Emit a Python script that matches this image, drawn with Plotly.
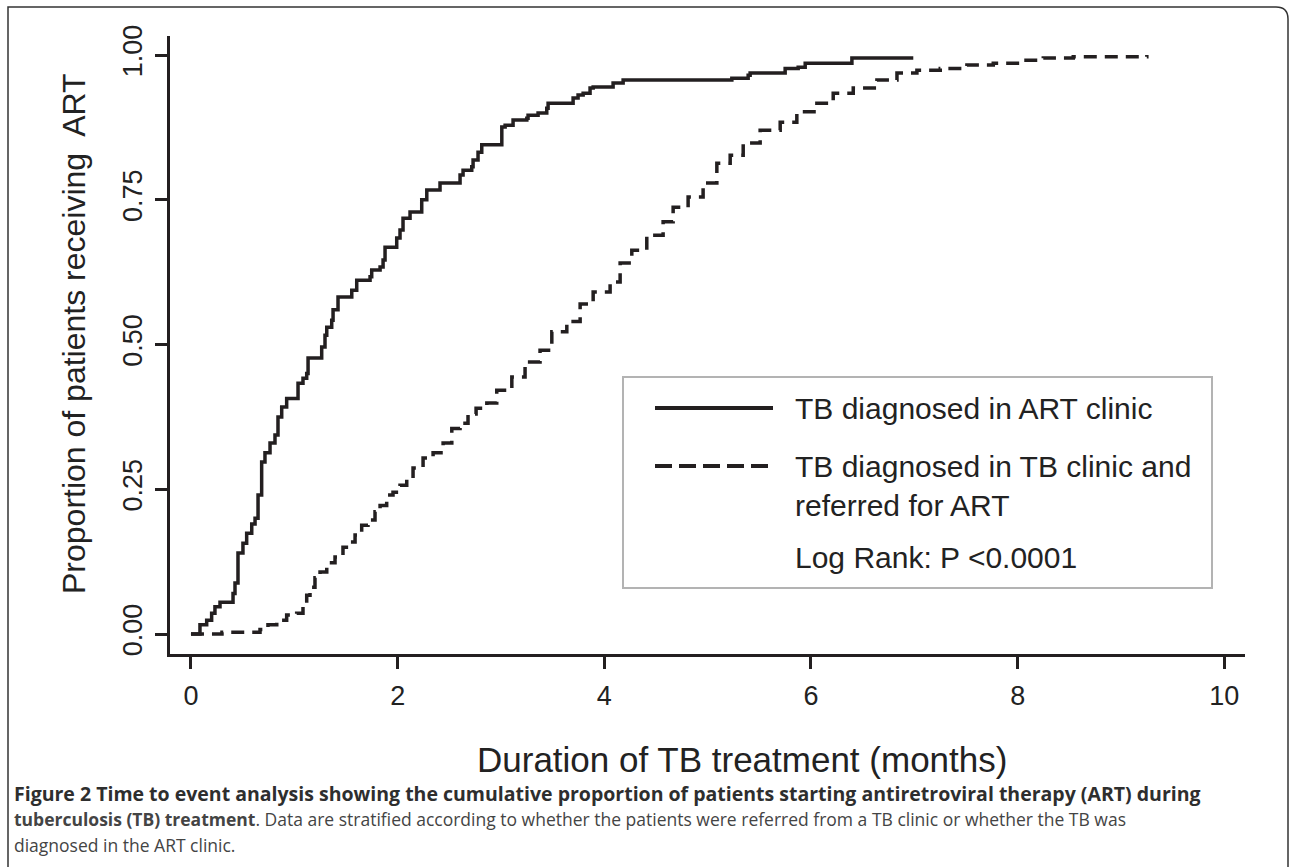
import plotly.graph_objects as go

# ---- data (months, cumulative proportion) ----
art_clinic_t = [0.0, 0.087, 0.152, 0.20, 0.232, 0.281, 0.407, 0.426, 0.455, 0.503, 0.539, 0.588, 0.62,
                0.649, 0.684, 0.716, 0.765, 0.813, 0.842, 0.878, 0.926, 1.036, 1.084, 1.12, 1.133, 1.265,
                1.297, 1.314, 1.362, 1.375, 1.423, 1.556, 1.604, 1.733, 1.749, 1.83, 1.859, 1.878, 1.991,
                2.023, 2.052, 2.12, 2.233, 2.282, 2.41, 2.604, 2.633, 2.717, 2.73, 2.778, 2.814, 3.008,
                3.04, 3.117, 3.25, 3.262, 3.359, 3.443, 3.456, 3.698, 3.746, 3.795, 3.862, 3.892, 4.085,
                4.182, 5.234, 5.392, 5.411, 5.75, 5.876, 5.944, 6.396, 6.99]
art_clinic_p = [0.0, 0.016, 0.024, 0.036, 0.047, 0.055, 0.07, 0.088, 0.14, 0.157, 0.174, 0.19, 0.20,
                0.24, 0.297, 0.313, 0.33, 0.344, 0.375, 0.392, 0.407, 0.433, 0.442, 0.45, 0.477, 0.496,
                0.516, 0.53, 0.542, 0.56, 0.582, 0.594, 0.611, 0.617, 0.629, 0.634, 0.646, 0.668, 0.684,
                0.698, 0.718, 0.729, 0.75, 0.767, 0.779, 0.793, 0.801, 0.807, 0.819, 0.832, 0.845, 0.876,
                0.879, 0.888, 0.891, 0.896, 0.90, 0.908, 0.917, 0.926, 0.931, 0.934, 0.943, 0.945, 0.952,
                0.957, 0.96, 0.965, 0.969, 0.977, 0.979, 0.986, 0.995, 0.995]

tb_clinic_t = [0.0, 0.30, 0.668, 0.745, 0.83, 0.926, 1.023, 1.084, 1.12, 1.152, 1.20, 1.249, 1.314, 1.394,
               1.471, 1.539, 1.588, 1.652, 1.713, 1.781, 1.83, 1.894, 1.955, 2.023, 2.088, 2.149, 2.246,
               2.343, 2.44, 2.524, 2.604, 2.681, 2.759, 2.863, 2.959, 3.105, 3.233, 3.378, 3.492, 3.637,
               3.766, 3.892, 4.056, 4.153, 4.266, 4.411, 4.569, 4.666, 4.811, 4.956, 5.089, 5.218, 5.344,
               5.508, 5.702, 5.863, 6.057, 6.215, 6.409, 6.638, 6.832, 7.025, 7.251, 7.509, 7.764, 8.025,
               8.248, 8.538, 9.25]
tb_clinic_p = [0.0, 0.003, 0.008, 0.016, 0.024, 0.033, 0.036, 0.047, 0.067, 0.081, 0.097, 0.107, 0.123,
               0.133, 0.15, 0.159, 0.171, 0.188, 0.197, 0.211, 0.222, 0.24, 0.245, 0.257, 0.268, 0.287,
               0.304, 0.313, 0.33, 0.355, 0.364, 0.38, 0.39, 0.399, 0.421, 0.444, 0.47, 0.49, 0.522,
               0.54, 0.57, 0.591, 0.608, 0.641, 0.663, 0.689, 0.712, 0.737, 0.755, 0.779, 0.813, 0.827,
               0.848, 0.87, 0.884, 0.902, 0.917, 0.934, 0.943, 0.957, 0.969, 0.974, 0.977, 0.983, 0.986,
               0.991, 0.995, 0.997, 1.0]

x_ticks = [0, 2, 4, 6, 8, 10]
y_ticks = [0.0, 0.25, 0.5, 0.75, 1.0]
y_tick_text = ["0.00", "0.25", "0.50", "0.75", "1.00"]

series_names = ["TB diagnosed in ART clinic", "TB diagnosed in TB clinic and<br>referred for ART"]
stat_text = "Log Rank: P <0.0001"
x_title = "Duration of TB treatment (months)"
y_title = "Proportion of patients receiving  ART"

INK = "#231f20"
W, H = 1290, 867
L, R, T, B = 170, 1245, 36, 654


def px(x):
    return (x - L) / (R - L)


def py(y):
    return (B - y) / (B - T)


fig = go.Figure()
fig.add_trace(go.Scatter(x=art_clinic_t, y=art_clinic_p, mode="lines", line_shape="hv",
                         line=dict(color=INK, width=3.5), name="ART clinic", showlegend=False))
fig.add_trace(go.Scatter(x=tb_clinic_t, y=tb_clinic_p, mode="lines", line_shape="hv",
                         line=dict(color=INK, width=3.5, dash="13px,8px"), name="TB clinic",
                         showlegend=False))

SANS = "Liberation Sans, Arial, sans-serif"
axis_font = dict(family=SANS, size=27, color="#222")

fig.update_layout(
    width=W, height=H,
    margin=dict(l=L, r=W - R, t=T, b=H - B, autoexpand=False),
    paper_bgcolor="white", plot_bgcolor="white",
    showlegend=False,
    font=axis_font,
    xaxis=dict(range=[-0.203, 10.2], tickvals=x_ticks, ticktext=[str(v) for v in x_ticks],
               showgrid=False, zeroline=False, showline=True, linecolor=INK, linewidth=2.5,
               ticks="outside", ticklen=12, tickwidth=2.5, tickcolor=INK, tickfont=axis_font,
               ticklabelstandoff=4),
    yaxis=dict(range=[-0.0345, 1.033], tickvals=y_ticks, ticktext=y_tick_text, tickangle=-90,
               showgrid=False, zeroline=False, showline=True, linecolor=INK, linewidth=2.5,
               ticks="outside", ticklen=12, tickwidth=2.5, tickcolor=INK, tickfont=axis_font,
               ticklabelstandoff=2),
)

shapes = []
# outer figure frame with rounded top-right corner
shapes.append(dict(type="path", xref="paper", yref="paper",
                   path=f"M {px(8)},{py(870)} L {px(8)},{py(7)} L {px(1276)},{py(7)} "
                        f"Q {px(1288)},{py(7)} {px(1288)},{py(19)} L {px(1288)},{py(870)}",
                   line=dict(color="#333", width=1.5)))
# legend box
shapes.append(dict(type="rect", xref="paper", yref="paper", x0=px(623), x1=px(1212),
                   y0=py(588), y1=py(377), line=dict(color="#b3b3b3", width=2), fillcolor="white",
                   layer="above"))
shapes.append(dict(type="line", xref="paper", yref="paper", x0=px(655), x1=px(773),
                   y0=py(408), y1=py(408), line=dict(color=INK, width=4)))
shapes.append(dict(type="line", xref="paper", yref="paper", x0=px(655), x1=px(773),
                   y0=py(466), y1=py(466), line=dict(color=INK, width=4, dash="17px,7px")))
fig.update_layout(shapes=shapes)

legend_font = dict(family=SANS, size=30, color="#222")
ann = []
ann.append(dict(xref="paper", yref="paper", x=px(793), y=py(408), xanchor="left", yanchor="middle",
                text=series_names[0], showarrow=False, font=legend_font, align="left"))
ann.append(dict(xref="paper", yref="paper", x=px(793), y=py(486), xanchor="left", yanchor="middle",
                text=series_names[1], showarrow=False, font=legend_font, align="left"))
ann.append(dict(xref="paper", yref="paper", x=px(793), y=py(557), xanchor="left", yanchor="middle",
                text=stat_text, showarrow=False, font=legend_font, align="left"))
# axis titles
ann.append(dict(xref="paper", yref="paper", x=px(742), y=py(759), xanchor="center", yanchor="middle",
                text=x_title, showarrow=False, font=dict(family=SANS, size=35, color="#222")))
ann.append(dict(xref="paper", yref="paper", x=px(74), y=py(334), xanchor="center", yanchor="middle",
                text=y_title, showarrow=False, textangle=-90,
                font=dict(family=SANS, size=32, color="#222")))
# caption
CAP = "Open Sans, sans-serif"
ann.append(dict(xref="paper", yref="paper", x=px(12), y=py(793), xanchor="left", yanchor="middle",
                text="<b>Figure 2 Time to event analysis showing the cumulative proportion of patients "
                     "starting antiretroviral therapy (ART) during</b>",
                showarrow=False, font=dict(family=CAP, size=19.5, color="#2e2e2e"), align="left"))
ann.append(dict(xref="paper", yref="paper", x=px(12), y=py(819), xanchor="left", yanchor="middle",
                text="<b>tuberculosis (TB) treatment</b>. Data are stratified according to whether the "
                     "patients were referred from a TB clinic or whether the TB was",
                showarrow=False, font=dict(family=CAP, size=17.5, color="#444"), align="left"))
ann.append(dict(xref="paper", yref="paper", x=px(12), y=py(845), xanchor="left", yanchor="middle",
                text="diagnosed in the ART clinic.",
                showarrow=False, font=dict(family=CAP, size=17.5, color="#444"), align="left"))
fig.update_layout(annotations=ann)

fig.write_html("out.html", config={"displayModeBar": False},
               post_script="document.body.style.margin='0px';document.body.style.padding='0px';")
